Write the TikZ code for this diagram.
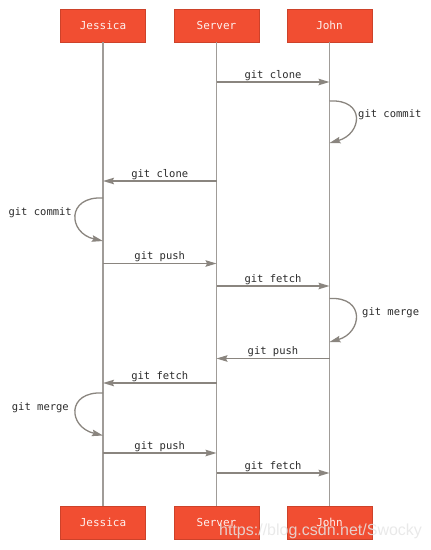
\documentclass[tikz,border=0pt]{standalone}
\usepackage{fontspec}
\setmonofont{DejaVu Sans Mono}
\newfontfamily\wmfont{Liberation Sans}
\usetikzlibrary{arrows.meta}
\definecolor{gitorange}{HTML}{F14E32}
\definecolor{lifegray}{HTML}{A09C98}
\definecolor{arrgray}{HTML}{8A857F}
\definecolor{labtext}{HTML}{2A2A2A}
\tikzset{
  actor/.style={fill=gitorange, draw=gitorange!85!black, line width=0.4pt, minimum width=85pt, minimum height=33pt, inner sep=0pt, text=white!92!gitorange, font=\ttfamily\fontsize{11}{12}\selectfont},
  lifeline/.style={draw=lifegray, line width=1.5pt},
  msg/.style={draw=arrgray, line width=1.3pt, -{Stealth[length=11pt,width=6.5pt,inset=1.5pt]}},
  lbl/.style={text=labtext, font=\ttfamily\fontsize{10.5}{12}\selectfont, inner sep=1pt}
}
\begin{document}
\begin{tikzpicture}[x=1pt,y=-1pt]
\useasboundingbox (0,0) rectangle (431,550);
% actors
\node[actor] (jt) at (103,25.5) {Jessica};
\node[actor] (st) at (216.5,25.5) {Server};
\node[actor] (nt) at (329.5,25.5) {John};
\node[actor] (jb) at (103,522.5) {Jessica};
\node[actor] (sb) at (216.5,522.5) {Server};
\node[actor] (nb) at (329.5,522.5) {John};
% lifelines
\draw[lifeline] (jt) -- (jb);
\draw[lifeline] (st) -- (sb);
\draw[lifeline] (nt) -- (nb);
% event points
\coordinate (s1) at (216.5,82); \coordinate (n1) at (329.5,82);
\coordinate (n2a) at (329.5,101); \coordinate (n2b) at (329.5,143);
\coordinate (s3) at (216.5,181); \coordinate (j3) at (103,181);
\coordinate (j4a) at (103,198); \coordinate (j4b) at (103,241);
\coordinate (j5) at (103,263.5); \coordinate (s5) at (216.5,263.5);
\coordinate (s6) at (216.5,286); \coordinate (n6) at (329.5,286);
\coordinate (n7a) at (329.5,298.5); \coordinate (n7b) at (329.5,342);
\coordinate (n8) at (329.5,358.5); \coordinate (s8) at (216.5,358.5);
\coordinate (s9) at (216.5,383); \coordinate (j9) at (103,383);
\coordinate (j10a) at (103,393); \coordinate (j10b) at (103,435.5);
\coordinate (j11) at (103,453); \coordinate (s11) at (216.5,453);
\coordinate (s12) at (216.5,473); \coordinate (n12) at (329.5,473);
% messages
\draw[msg] (s1) -- node[lbl, above] {git clone} (n1);
\draw[msg] (n2a) .. controls (366,99) and (362,134) .. (n2b);
\node[lbl, anchor=west] at (357,115) {git commit};
\draw[msg] (s3) -- node[lbl, above] {git clone} (j3);
\draw[msg] (j4a) .. controls (66,196) and (68,233) .. (j4b);
\node[lbl, anchor=east] at (73,213) {git commit};
\draw[msg] (j5) -- node[lbl, above] {git push} (s5);
\draw[msg] (s6) -- node[lbl, above] {git fetch} (n6);
\draw[msg] (n7a) .. controls (366,296.5) and (362,333) .. (n7b);
\node[lbl, anchor=west] at (361,313) {git merge};
\draw[msg] (n8) -- node[lbl, above] {git push} (s8);
\draw[msg] (s9) -- node[lbl, above] {git fetch} (j9);
\draw[msg] (j10a) .. controls (66,391) and (68,427) .. (j10b);
\node[lbl, anchor=east] at (70,408) {git merge};
\draw[msg] (j11) -- node[lbl, above] {git push} (s11);
\draw[msg] (s12) -- node[lbl, above] {git fetch} (n12);
% watermark
\node[text=white!80!gray, opacity=0.85, font=\wmfont\fontsize{16}{17}\selectfont, anchor=west, inner sep=0pt] (wm) at (219,531.5) {https://blog.csdn.net/Swocky};
\end{tikzpicture}
\end{document}
